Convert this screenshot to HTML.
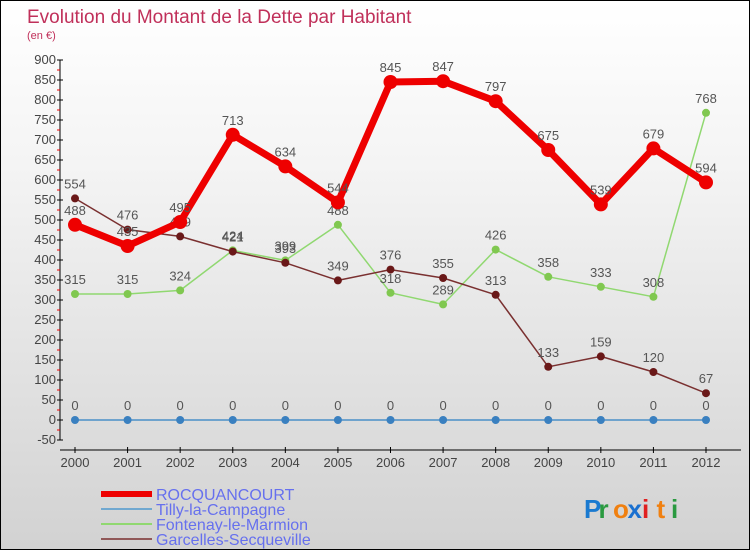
<!DOCTYPE html>
<html><head><meta charset="utf-8">
<style>
body{margin:0;width:750px;height:550px;overflow:hidden;font-family:"Liberation Sans",sans-serif}
#wrap{position:relative;width:748px;height:548px;border:1px solid #000;background:linear-gradient(#fff,#f4f4f4 30%,#d2d2d2)}
</style></head><body>
<div id="wrap">
<svg id="chart" width="748" height="548" xmlns="http://www.w3.org/2000/svg"></svg>
</div>
<script>
const years=["2000","2001","2002","2003","2004","2005","2006","2007","2008","2009","2010","2011","2012"];
const rocq=[488,435,495,713,634,544,845,847,797,675,539,679,594];
const tilly=[0,0,0,0,0,0,0,0,0,0,0,0,0];
const fonte=[315,315,324,424,399,488,318,289,426,358,333,308,768];
const garc=[554,476,459,421,393,349,376,355,313,133,159,120,67];
const yTicks=[-50,0,50,100,150,200,250,300,350,400,450,500,550,600,650,700,750,800,850,900];
const NS="http://www.w3.org/2000/svg";
const svg=document.getElementById('chart');
function X(i){return 74+i*(631/(years.length-1));}
function Y(v){return 419-v*0.4;}
function mk(t,a,p){const e=document.createElementNS(NS,t);for(const k in a)e.setAttribute(k,a[k]);(p||svg).appendChild(e);return e;}
function txt(x,y,s,a){const e=mk('text',Object.assign({x:x,y:y,'font-family':'Liberation Sans, sans-serif'},a));e.textContent=s;return e;}
let t=txt(26,22,'Evolution du Montant de la Dette par Habitant',{'font-size':19,fill:'#c0305a'});


t=txt(26,38,'(en €)',{'font-size':11,fill:'#c0305a'});


let ax=mk('line',{x1:59,y1:Y(900),x2:59,y2:Y(-50),stroke:'#000'});


ax=mk('line',{x1:59,y1:449,x2:740,y2:449,stroke:'#000'});


yTicks.forEach(v=>{
 mk('line',{x1:56,y1:Y(v),x2:62,y2:Y(v),stroke:'#000'});
 if(v>-50) mk('line',{x1:56,y1:Y(v)+10,x2:59,y2:Y(v)+10,stroke:'#e00'});
 const l=txt(55,Y(v)+4,String(v),{'font-size':13,fill:'#444','text-anchor':'end'});
 
 
});
years.forEach((y,i)=>{
 mk('line',{x1:X(i),y1:446,x2:X(i),y2:452,stroke:'#000'});
 const l=txt(X(i),466,y,{'font-size':13,fill:'#444','text-anchor':'middle'});
 
 
});
function series(data,color,w,r,fill,name){
 const g=mk('g',{});
 
 
 mk('polyline',{points:data.map((v,i)=>X(i)+','+Y(v)).join(' '),fill:'none',stroke:color,'stroke-width':w,'stroke-linejoin':'round'},g);
 data.forEach((v,i)=>{
  const c=mk('circle',{cx:X(i),cy:Y(v),r:r,fill:fill},g);
  
  
  txt(X(i),Y(v)-10,String(v),{'font-size':13,fill:'#555','text-anchor':'middle'},g);
 });
}
series(tilly,'#4a90c8',1.5,4,'#3a80c0','series-tilly');
series(fonte,'#90d870',1.5,4,'#80c850','series-fontenay');
series(garc,'#7a3030',1.5,4,'#6a1818','series-garcelles');
series(rocq,'#ee0000',7,7,'#ee0000','series-rocquancourt');
const leg=[['ROCQUANCOURT','#ee0000',6],['Tilly-la-Campagne','#70a8d0',2],['Fontenay-le-Marmion','#90d870',2],['Garcelles-Secqueville','#905858',2]];
leg.forEach((l,i)=>{
 const g=mk('g',{});
 
 
 const y=493+i*15;
 mk('line',{x1:100,y1:y,x2:151,y2:y,stroke:l[1],'stroke-width':l[2]},g);
 txt(155,y+6,l[0],{'font-size':16,fill:'#6670ee'},g);
});
const logo=mk('g',{});


const cols=['#1a7ad0','#2a9a40','#f08010','#1a70d0','#e02020','#f08010','#2a9a40'];
'Proxiti'.split('').forEach((c,i)=>{txt(583+i*14.5,517,c,{'font-size':26,fill:cols[i],'font-weight':'bold'},logo);});
</script>
</body></html>
